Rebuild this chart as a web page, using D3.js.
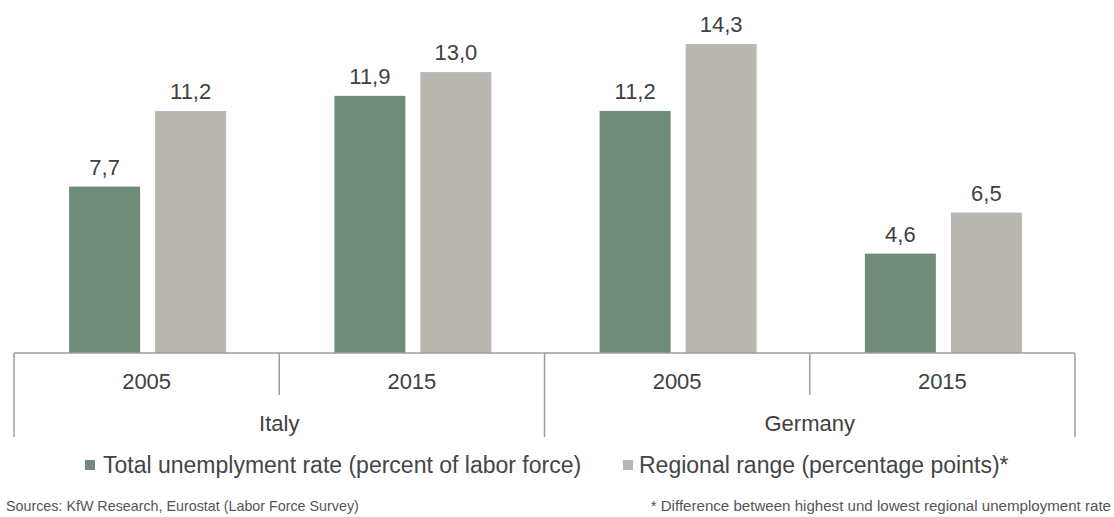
<!DOCTYPE html>
<html>
<head>
<meta charset="utf-8">
<script src="https://cdn.jsdelivr.net/npm/d3@7"></script>
<style>
  body { margin: 0; background: #fff; overflow: hidden; }
  svg { display: block; font-family: "Liberation Sans", Arial, sans-serif; }
</style>
</head>
<body>
<div id="chart"></div>
<script>
// Data
const countries = ['Italy', 'Germany'];
const years = ['2005', '2015'];
const unemployment = [7.7, 11.9, 11.2, 4.6];
const regionalRange = [11.2, 13.0, 14.3, 6.5];
const seriesNames = [
    'Total unemplyment rate (percent of labor force)',
    'Regional range (percentage points)*'
];
const colors = ['#6f8b7a', '#bab7b0'];

const width = 1114, height = 517;
const baseline = 353;
const textColor = '#404040';

const svg = d3.select('#chart').append('svg')
    .attr('width', width)
    .attr('height', height);

// one row per country/year
const rows = [];
countries.forEach((c, i) => {
    years.forEach((y, j) => {
        const k = i * years.length + j;
        rows.push({ key: c + ' ' + y, country: c, year: y, values: [unemployment[k], regionalRange[k]] });
    });
});

// Scales
const x0 = d3.scaleBand()
    .domain(rows.map(d => d.key))
    .range([14, 1075]);

const x1 = d3.scaleBand()
    .domain([0, 1])
    .range([0, 157])
    .paddingInner(15 / 86);

const y = d3.scaleLinear()
    .domain([0, 14.3])
    .range([baseline, 44]);

const fmt = d3.formatLocale({ decimal: ',', thousands: '.', grouping: [3], currency: ['', ''] }).format('.1f');

// Bars
const groups = svg.selectAll('.group')
    .data(rows)
    .enter()
    .append('g')
    .attr('class', 'group')
    .attr('transform', d => `translate(${x0(d.key) + x0.bandwidth() / 2 - 77.5},0)`);

groups.selectAll('rect')
    .data(d => d.values)
    .enter()
    .append('rect')
    .attr('x', (d, i) => x1(i))
    .attr('y', d => y(d))
    .attr('width', x1.bandwidth())
    .attr('height', d => baseline - y(d))
    .attr('fill', (d, i) => colors[i]);

groups.selectAll('text')
    .data(d => d.values)
    .enter()
    .append('text')
    .attr('x', (d, i) => x1(i) + x1.bandwidth() / 2)
    .attr('y', d => y(d) - 12)
    .attr('text-anchor', 'middle')
    .attr('font-size', 22)
    .attr('fill', textColor)
    .text(d => fmt(d));

// Axis line and category dividers
const axisColor = '#9c9c9c';
svg.append('line')
    .attr('x1', x0.range()[0]).attr('x2', x0.range()[1])
    .attr('y1', baseline).attr('y2', baseline)
    .attr('stroke', axisColor).attr('stroke-width', 1.5);

const bounds = rows.map(d => x0(d.key)).concat([x0.range()[1]]);
svg.selectAll('.divider')
    .data(bounds)
    .enter()
    .append('line')
    .attr('class', 'divider')
    .attr('x1', d => d).attr('x2', d => d)
    .attr('y1', baseline)
    .attr('y2', (d, i) => i % years.length === 0 ? 437 : 395)
    .attr('stroke', axisColor).attr('stroke-width', 1.5);

// Year labels
svg.selectAll('.year')
    .data(rows)
    .enter()
    .append('text')
    .attr('x', d => x0(d.key) + x0.bandwidth() / 2)
    .attr('y', 389)
    .attr('text-anchor', 'middle')
    .attr('font-size', 22)
    .attr('fill', textColor)
    .text(d => d.year);

// Country labels
svg.selectAll('.country')
    .data(countries)
    .enter()
    .append('text')
    .attr('x', (c, i) => (x0(rows[i * 2].key) + x0(rows[i * 2 + 1].key) + x0.bandwidth()) / 2)
    .attr('y', 431)
    .attr('text-anchor', 'middle')
    .attr('font-size', 22)
    .attr('fill', textColor)
    .text(d => d);

// Legend
const legendX = [85, 623];
const legend = svg.selectAll('.legend')
    .data(seriesNames)
    .enter()
    .append('g')
    .attr('class', 'legend')
    .attr('transform', (d, i) => `translate(${legendX[i]},465)`);

legend.append('rect')
    .attr('x', 0).attr('y', -5)
    .attr('width', 10).attr('height', 10)
    .attr('fill', (d, i) => colors[i]);

legend.append('text')
    .attr('x', (d, i) => i === 0 ? 18 : 16)
    .attr('y', 8)
    .attr('font-size', 23)
    .attr('fill', '#454545')
    .text(d => d);

// Footer notes
svg.append('text')
    .attr('x', 6).attr('y', 511)
    .attr('font-size', 14.3)
    .attr('fill', '#555')
    .text('Sources: KfW Research, Eurostat (Labor Force Survey)');

svg.append('text')
    .attr('x', 1111).attr('y', 511)
    .attr('text-anchor', 'end')
    .attr('font-size', 15.1)
    .attr('fill', '#555')
    .text('* Difference between highest und lowest regional unemployment rate');
</script>
</body>
</html>
